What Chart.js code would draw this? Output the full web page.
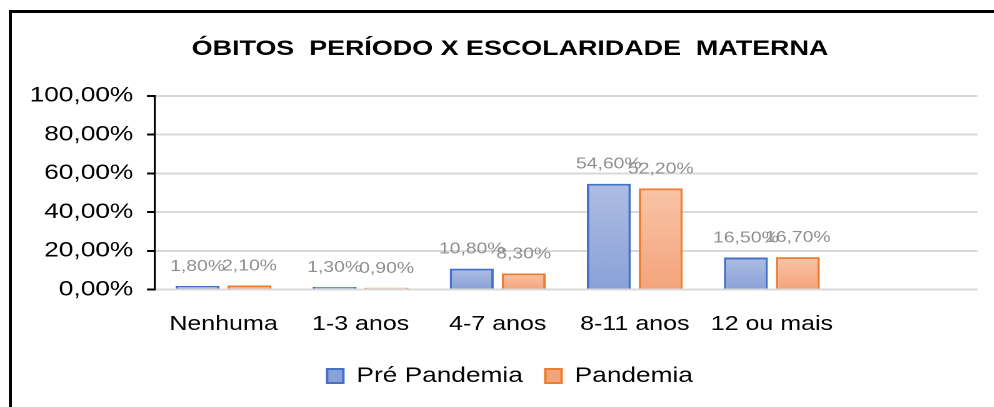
<!DOCTYPE html>
<html>
<head>
<meta charset="utf-8">
<script src="https://cdn.jsdelivr.net/npm/chart.js@4"></script>
<style>
html,body{margin:0;padding:0;background:#fff;overflow:hidden;width:994px;height:407px;position:relative}
#frame{position:absolute;left:9px;top:10px;width:1200px;height:600px;border-left:3px solid #000;border-top:3px solid #000;box-sizing:border-box}
#wrap{position:absolute;left:0;top:0;width:795px;height:407px;transform:scaleX(1.25);transform-origin:0 0}
</style>
</head>
<body>
<div id="frame"></div>
<div id="wrap"><canvas id="c" width="795" height="407"></canvas></div>
<script>
const titleText = 'ÓBITOS  PERÍODO X ESCOLARIDADE  MATERNA';
const categories = ['Nenhuma', '1-3 anos', '4-7 anos', '8-11 anos', '12 ou mais', ''];
const seriesNames = ['Pré Pandemia', 'Pandemia'];
const preValues = [1.8, 1.3, 10.8, 54.6, 16.5, null];
const pandValues = [2.1, 0.9, 8.3, 52.2, 16.7, null];
const yMin = 0, yMax = 100, yStep = 20;

const FONT = "'Liberation Sans', Arial, sans-serif";
const fmt = v => Number(v).toFixed(2).replace('.', ',') + '%';

function grad(top, bottom, fallback) {
  return (ctx) => {
    const chart = ctx.chart;
    if (ctx.type !== 'data' || !chart.chartArea || ctx.raw == null) return fallback;
    const y = chart.scales.y;
    const y0 = y.getPixelForValue(ctx.raw), y1 = y.getPixelForValue(0);
    if (!isFinite(y0) || !isFinite(y1) || y0 === y1) return fallback;
    const g = chart.ctx.createLinearGradient(0, y0, 0, y1);
    g.addColorStop(0, top);
    g.addColorStop(1, bottom);
    return g;
  };
}

// let the y tick labels extend left of the axis box (avoid label clipping)
const unclipY = {
  id: 'unclipY',
  afterLayout(chart) {
    const y = chart.scales.y;
    y.left = 0;
  }
};

const valueLabels = {
  id: 'valueLabels',
  afterDatasetsDraw(chart) {
    const ctx = chart.ctx;
    ctx.save();
    ctx.font = '15.5px ' + FONT;
    ctx.fillStyle = '#8f8f8f';
    ctx.textAlign = 'center';
    ctx.textBaseline = 'alphabetic';
    chart.data.datasets.forEach((ds, di) => {
      const meta = chart.getDatasetMeta(di);
      meta.data.forEach((el, i) => {
        const v = ds.data[i];
        if (v == null) return;
        ctx.fillText(fmt(v), el.x, el.y - 15);
      });
    });
    ctx.restore();
  }
};

new Chart(document.getElementById('c'), {
  type: 'bar',
  data: {
    labels: categories,
    datasets: [
      {
        label: seriesNames[0],
        data: preValues,
        backgroundColor: grad('#aebde3', '#8aa1d8', '#9fb1df'),
        borderColor: '#4472c4',
        borderWidth: 2,
        categoryPercentage: 0.758,
        barPercentage: 0.846
      },
      {
        label: seriesNames[1],
        data: pandValues,
        backgroundColor: grad('#f9c4a8', '#f4a47b', '#f6b592'),
        borderColor: '#ed7d31',
        borderWidth: 2,
        categoryPercentage: 0.758,
        barPercentage: 0.846
      }
    ]
  },
  options: {
    responsive: false,
    animation: false,
    devicePixelRatio: 2,
    layout: { padding: { left: 34, right: 13, top: 10, bottom: 10.5 } },
    plugins: {
      title: {
        display: true,
        text: titleText,
        color: '#000',
        font: { family: FONT, size: 21.5, weight: 'bold' },
        padding: { top: 26, bottom: 34 }
      },
      legend: {
        position: 'bottom',
        labels: {
          color: '#000',
          font: { family: FONT, size: 21 },
          boxWidth: 13,
          boxHeight: 14,
          padding: 18
        }
      },
      tooltip: { enabled: false }
    },
    scales: {
      x: {
        grid: { display: false },
        border: { display: false },
        ticks: { color: '#000', font: { family: FONT, size: 20 }, padding: 15, maxRotation: 0, autoSkip: false },
        afterFit(axis) { axis.height = 58; }
      },
      y: {
        min: yMin, max: yMax,
        ticks: { stepSize: yStep, color: '#000', font: { family: FONT, size: 21 }, padding: 11, callback: v => fmt(v) },
        grid: { color: '#d9d9d9', lineWidth: 2, tickColor: '#000', tickLength: 6.4, tickWidth: 2 },
        border: { color: '#000', width: 1.6 },
        afterFit(axis) { axis.width = 90; }
      }
    }
  },
  plugins: [unclipY, valueLabels]
});
</script>
</body>
</html>
